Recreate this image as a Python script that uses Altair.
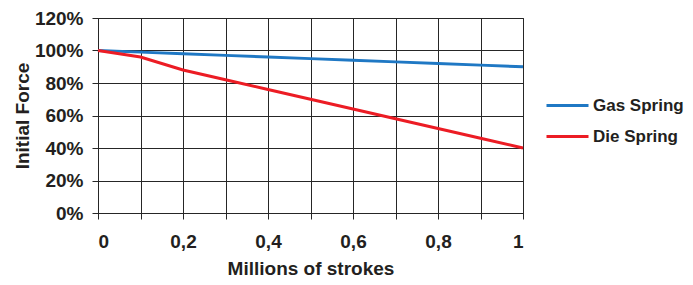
import altair as alt
import pandas as pd

strokes = [0, 0.1, 0.2, 0.3, 0.4, 0.5, 0.6, 0.7, 0.8, 0.9, 1.0]
gas_spring = [100, 99, 98, 97, 96, 95, 94, 93, 92, 91, 90]
die_spring = [100, 96, 88, 82, 76, 70, 64, 58, 52, 46, 40]
series_names = ["Gas Spring", "Die Spring"]
series_colors = ["#1f78c4", "#ec1c24"]
y_ticks = [0, 20, 40, 60, 80, 100, 120]
x_ticks = [0, 0.1, 0.2, 0.3, 0.4, 0.5, 0.6, 0.7, 0.8, 0.9, 1.0]

rows = []
for s, vals in zip(series_names, [gas_spring, die_spring]):
    for x, v in zip(strokes, vals):
        rows.append({"x": x, "y": v, "series": s})
df = pd.DataFrame(rows)

FONT = "Liberation Sans"

chart = alt.Chart(df).mark_line(strokeWidth=3).encode(
    x=alt.X("x:Q", scale=alt.Scale(domain=[0, 1], nice=False),
            axis=alt.Axis(values=x_ticks, title="Millions of strokes",
                          labelExpr="round(datum.value*10)%2==0 ? replace(toString(datum.value), '.', ',') : ''",
                          tickSize=6, labelPadding=13, titlePadding=8)),
    y=alt.Y("y:Q", scale=alt.Scale(domain=[0, 120], nice=False),
            axis=alt.Axis(values=y_ticks, title="Initial Force",
                          labelExpr="datum.value + '%'",
                          tickSize=6, labelPadding=9, titlePadding=2)),
    color=alt.Color("series:N",
                    scale=alt.Scale(domain=series_names, range=series_colors),
                    sort=series_names,
                    legend=alt.Legend(title=None, orient="none", legendX=447, legendY=65,
                                      symbolType="stroke", symbolSize=1764, symbolStrokeWidth=3,
                                      labelFontSize=17, labelFont=FONT, labelFontWeight="bold",
                                      labelColor="#231f20", labelOffset=3, rowPadding=-4,
                                      labelLimit=200)),
).properties(
    width=425, height=195,
    autosize=alt.AutoSizeParams(type="none"),
    padding={"left": 90, "top": 10, "right": 162, "bottom": 64},
).configure_axis(
    grid=True, gridColor="#262626", gridWidth=1, gridOpacity=1,
    domainColor="#262626", domainWidth=1,
    tickColor="#262626", tickWidth=1,
    labelFont=FONT, labelFontSize=19, labelFontWeight="bold", labelColor="#231f20",
    titleFont=FONT, titleFontSize=19, titleFontWeight="bold", titleColor="#231f20",
).configure_view(stroke="#262626", strokeWidth=1)

chart.save("out.html", embed_options={"renderer": "svg", "actions": False})
